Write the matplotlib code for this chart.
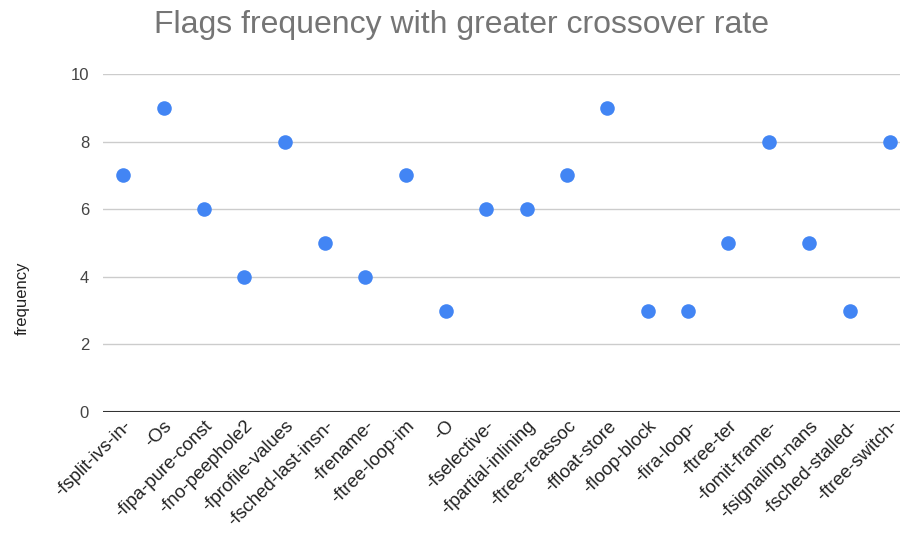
import numpy as np
import matplotlib.pyplot as plt

flags = ['-fsplit-ivs-in-', '-Os', '-fipa-pure-const', '-fno-peephole2',
         '-fprofile-values', '-fsched-last-insn-', '-frename-', '-ftree-loop-im',
         '-O', '-fselective-', '-fpartial-inlining', '-ftree-reassoc',
         '-ffloat-store', '-floop-block', '-fira-loop-', '-ftree-ter',
         '-fomit-frame-', '-fsignaling-nans', '-fsched-stalled-', '-ftree-switch-']
frequency = [7, 9, 6, 4, 8, 5, 4, 7, 3, 6, 6, 7, 9, 3, 3, 5, 8, 5, 3, 8]
y_ticks = [0, 2, 4, 6, 8, 10]

plt.rcParams['font.family'] = ['Liberation Sans', 'DejaVu Sans']

fig = plt.figure(figsize=(9.01, 5.37), dpi=100)
ax = fig.add_axes([103 / 901, 125 / 537, 797 / 901, 338 / 537])

x = np.arange(len(flags))
ax.scatter(x, frequency, s=110, color='#4285f4', zorder=3, linewidths=0)

ax.set_xlim(-0.5, 19.25)
ax.set_ylim(0, 10)
ax.set_yticks(y_ticks)
ax.set_xticks(x)
ax.set_xticklabels(flags, rotation=45, ha='right', va='top',
                   rotation_mode='anchor', fontsize=13.3, color='#222222')
ax.tick_params(axis='y', length=0, labelsize=12, labelcolor='#444444', pad=10)
ax.tick_params(axis='x', length=0, pad=4)
ax.yaxis.grid(True, color='#cccccc', linewidth=1)
ax.axhline(0, color='#333333', linewidth=1.5, zorder=2)
for s in ax.spines.values():
    s.set_visible(False)

fig.text(22 / 901, 1 - 298 / 537, 'frequency', rotation=90, ha='center',
         va='center', fontsize=12, color='#222222')
fig.text(461 / 901, 1 - 25 / 537, 'Flags frequency with greater crossover rate',
         ha='center', va='center', fontsize=23, color='#757575')

fig.savefig('out.png', dpi=100)
